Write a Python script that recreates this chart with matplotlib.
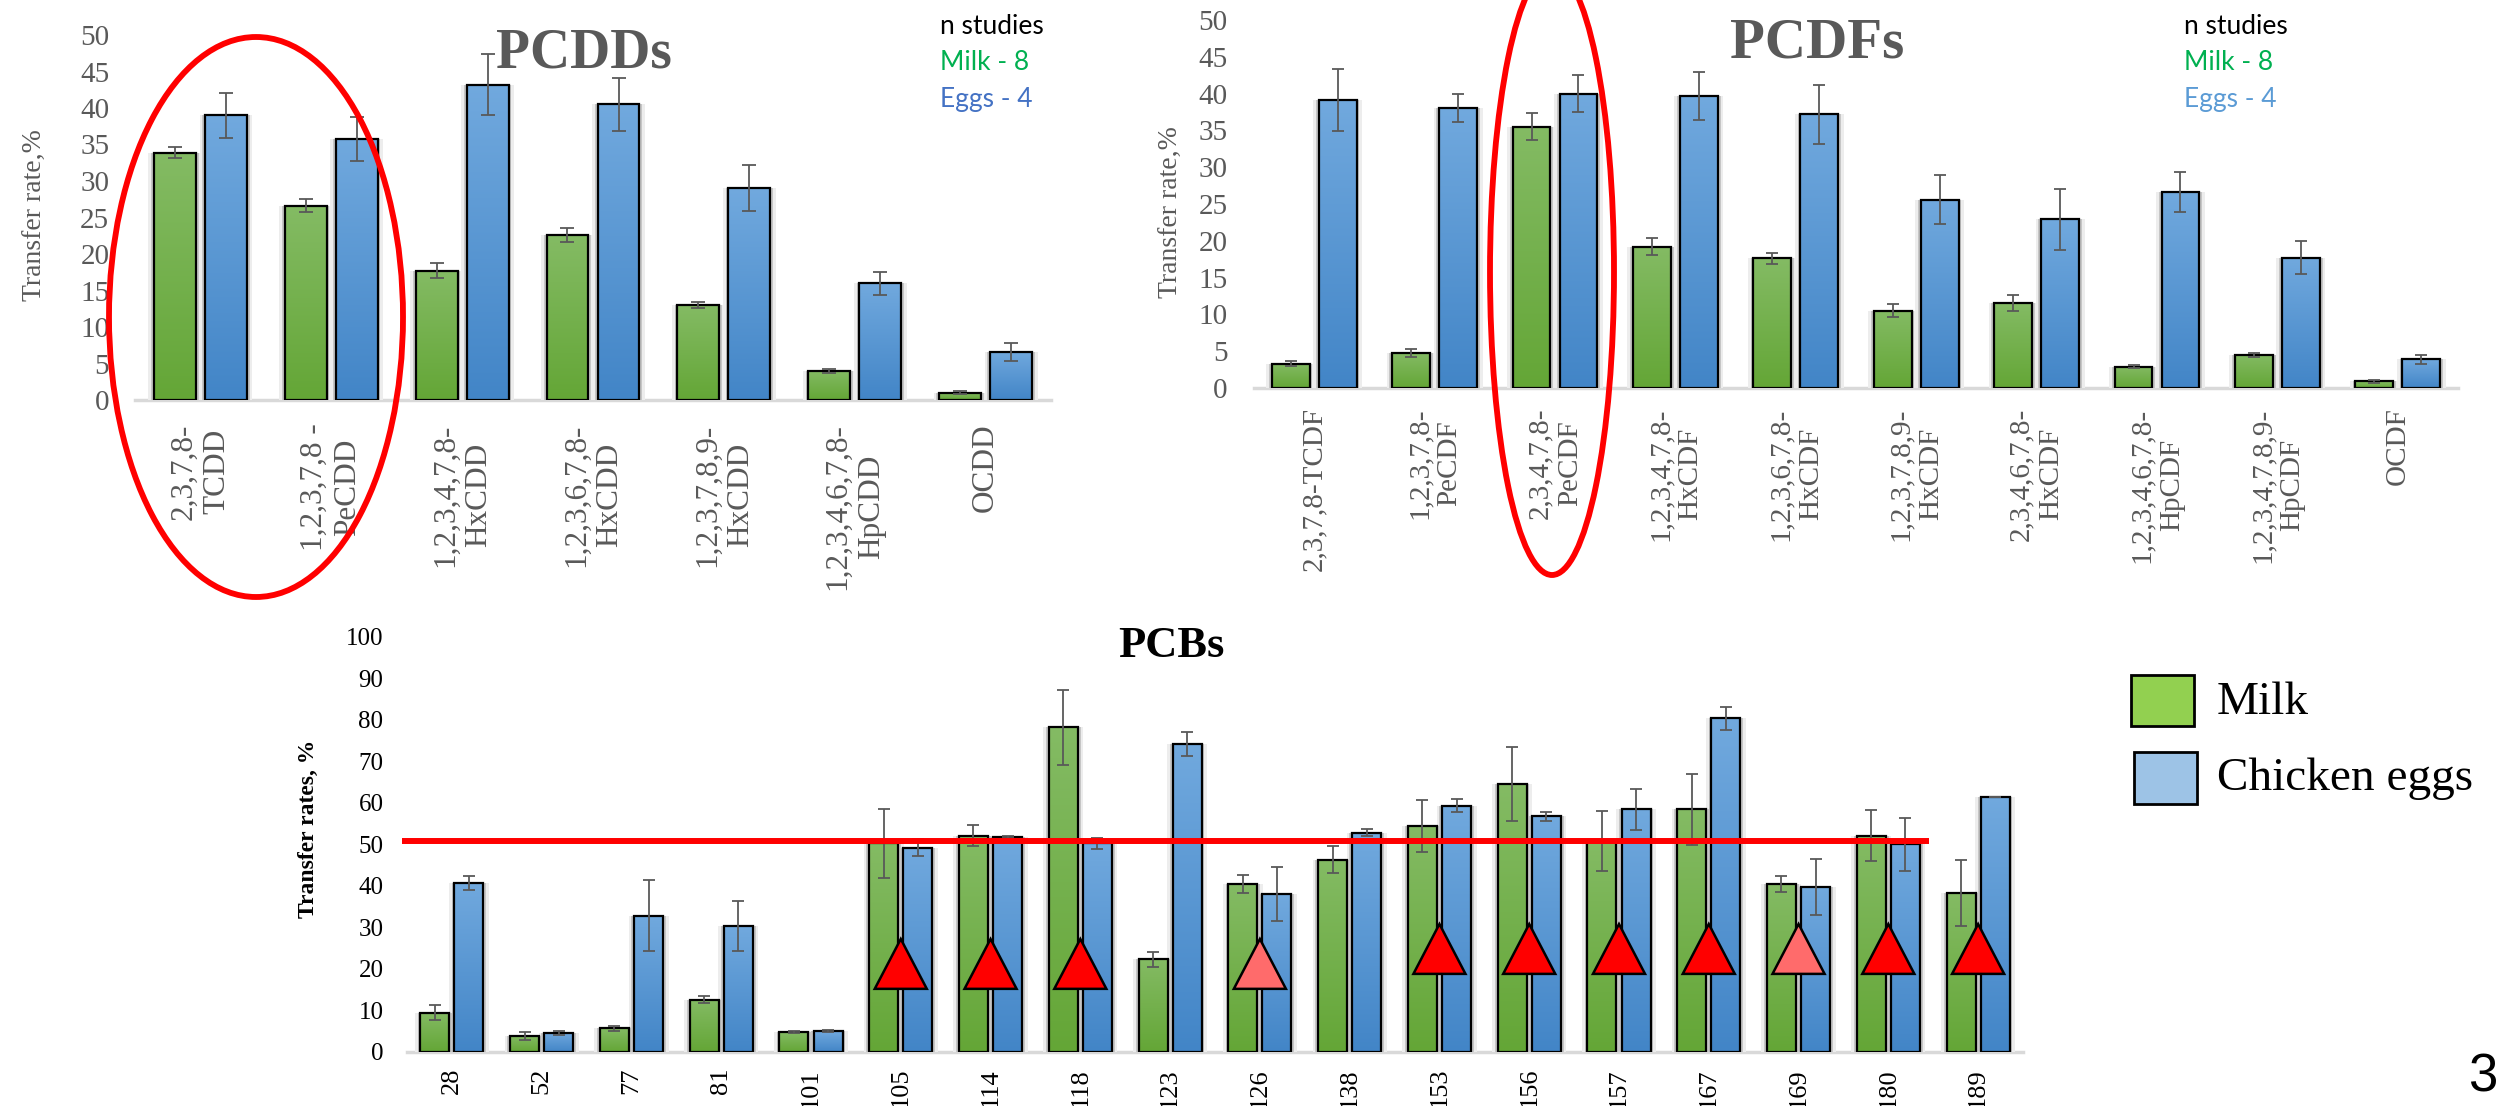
import numpy as np
import matplotlib
matplotlib.use("Agg")
import matplotlib.pyplot as plt
from matplotlib.colors import LinearSegmentedColormap
from matplotlib.patches import Ellipse, Rectangle, Polygon

# ---------------- data ----------------
pcdd_labels = ["2,3,7,8-\nTCDD", "1,2,3,7,8 -\nPeCDD", "1,2,3,4,7,8-\nHxCDD", "1,2,3,6,7,8-\nHxCDD",
               "1,2,3,7,8,9-\nHxCDD", "1,2,3,4,6,7,8-\nHpCDD", "OCDD"]
pcdd_milk = [33.9, 26.6, 17.7, 22.6, 13.0, 4.0, 1.0]
pcdd_milk_err = [0.8, 0.9, 1.0, 0.9, 0.45, 0.3, 0.2]
pcdd_eggs = [39.0, 35.8, 43.2, 40.5, 29.0, 16.0, 6.6]
pcdd_eggs_err = [3.1, 3.0, 4.2, 3.6, 3.15, 1.6, 1.25]

pcdf_labels = ["2,3,7,8-TCDF", "1,2,3,7,8-\nPeCDF", "2,3,4,7,8-\nPeCDF", "1,2,3,4,7,8-\nHxCDF",
               "1,2,3,6,7,8-\nHxCDF", "1,2,3,7,8,9-\nHxCDF", "2,3,4,6,7,8-\nHxCDF",
               "1,2,3,4,6,7,8-\nHpCDF", "1,2,3,4,7,8,9-\nHpCDF", "OCDF"]
pcdf_milk = [3.3, 4.75, 35.5, 19.2, 17.6, 10.5, 11.5, 2.9, 4.5, 0.9]
pcdf_milk_err = [0.35, 0.55, 1.85, 1.15, 0.7, 0.9, 1.1, 0.2, 0.25, 0.2]
pcdf_eggs = [39.1, 38.0, 40.0, 39.7, 37.2, 25.6, 22.9, 26.6, 17.7, 3.9]
pcdf_eggs_err = [4.2, 1.9, 2.55, 3.3, 4.0, 3.3, 4.15, 2.7, 2.25, 0.6]

pcb_labels = ["28", "52", "77", "81", "101", "105", "114", "118", "123", "126",
              "138", "153", "156", "157", "167", "169", "180", "189"]
pcb_milk = [9.5, 3.9, 5.7, 12.6, 4.8, 50.2, 52.1, 78.1, 22.3, 40.4,
            46.3, 54.4, 64.5, 50.7, 58.4, 40.5, 52.1, 38.2]
pcb_milk_err = [1.85, 0.9, 0.6, 0.9, 0.2, 8.4, 2.6, 9.1, 1.8, 2.2,
                3.2, 6.3, 8.8, 7.2, 8.5, 1.9, 6.1, 7.9]
pcb_eggs = [40.7, 4.6, 32.8, 30.3, 5.0, 49.2, 51.8, 50.2, 74.2, 38.0,
            52.8, 59.3, 56.7, 58.4, 80.3, 39.7, 50.0, 61.4]
pcb_eggs_err = [1.75, 0.4, 8.6, 6.0, 0.2, 2.1, 0.3, 1.4, 2.9, 6.5,
                0.9, 1.5, 1.0, 5.0, 2.8, 6.8, 6.4, 0.0]
pcb_threshold = 50.8

tri_congeners = ["105", "114", "118", "126", "153", "156", "157", "167", "169", "180", "189"]
tri_base = [15.2, 15.2, 15.2, 15.2, 18.8, 18.8, 18.8, 18.8, 18.8, 18.8, 18.8]
tri_colors = ["#FF0000", "#FF0000", "#FF0000", "#FF6B6B", "#FF0000", "#FF0000", "#FF0000",
              "#FF0000", "#FF6B6B", "#FF0000", "#FF0000"]

# ---------------- figure ----------------
W, H = 2501, 1106
fig = plt.figure(figsize=(W / 100, H / 100), dpi=100)
fig.patch.set_facecolor("white")
SERIF = "Liberation Serif"
GRAY = "#595959"

GREEN_CMAP = LinearSegmentedColormap.from_list("g", ["#64A636", "#84BB64"])
BLUE_CMAP = LinearSegmentedColormap.from_list("b", ["#4285C7", "#71A9DE"])


def px_axes(l, t, r, b):
    return fig.add_axes([l / W, 1 - b / H, (r - l) / W, (b - t) / H])


def draw_series(ax, x, vals, errs, width, cmap, ppu, capsize):
    sh = 5.0 / ppu
    ax.bar(x, vals, width=width + 2.2 * sh, color="#EDEDED", zorder=1, linewidth=0)
    ax.bar(x, vals, width=width + 1.1 * sh, color="#C6C6C6", zorder=1.1, linewidth=0)
    bars = ax.bar(x, vals, width=width, facecolor="none", edgecolor="black",
                  linewidth=1.6, zorder=3)
    grad = np.linspace(0, 1, 256).reshape(-1, 1)
    for b in bars:
        x0, y0 = b.get_xy()
        w, h = b.get_width(), b.get_height()
        ax.imshow(grad, extent=[x0, x0 + w, y0, y0 + h], origin="lower", aspect="auto",
                  cmap=cmap, zorder=2, interpolation="bilinear")
    ax.errorbar(x, vals, yerr=errs, fmt="none", ecolor=GRAY, elinewidth=1.3,
                capsize=capsize, capthick=1.3, zorder=4)


def setup(ax, labels, ymax, ystep, xlim, tick_size, tick_color, pad_y, xlab_size, pad_x):
    ax.set_xlim(*xlim)
    ax.set_ylim(0, ymax)
    ticks = np.arange(0, ymax + 0.01, ystep)
    ax.set_yticks(ticks)
    ax.set_yticklabels([f"{t:g}" for t in ticks], family=SERIF, fontsize=tick_size, color=tick_color)
    ax.set_xticks(range(len(labels)))
    ax.set_xticklabels(labels, rotation=90, ha="center", va="top", multialignment="center",
                       fontsize=xlab_size, color=tick_color, family=SERIF)
    for s in ["top", "right", "left"]:
        ax.spines[s].set_visible(False)
    ax.spines["bottom"].set_color("#D9D9D9")
    ax.spines["bottom"].set_linewidth(2.5)
    ax.spines["bottom"].set_zorder(0.5)
    ax.tick_params(axis="both", length=0)
    ax.tick_params(axis="y", pad=pad_y)
    ax.tick_params(axis="x", pad=pad_x)
    ax.patch.set_alpha(0)


# ---- PCDDs ----
ax1 = px_axes(135, 35, 1051, 400)
x1 = np.arange(len(pcdd_labels))
ppu1 = (1051 - 135) / 7.0
draw_series(ax1, x1 - 0.195, pcdd_milk, pcdd_milk_err, 0.32, GREEN_CMAP, ppu1, 5)
draw_series(ax1, x1 + 0.195, pcdd_eggs, pcdd_eggs_err, 0.32, BLUE_CMAP, ppu1, 5)
setup(ax1, pcdd_labels, 50, 5, (-0.5, 6.5), 21, GRAY, 18.5, 22.5, 17)

# ---- PCDFs ----
ax2 = px_axes(1254, 20, 2458, 388)
x2 = np.arange(len(pcdf_labels))
ppu2 = (2458 - 1254) / 10.0
draw_series(ax2, x2 - 0.195, pcdf_milk, pcdf_milk_err, 0.315, GREEN_CMAP, ppu2, 4.5)
draw_series(ax2, x2 + 0.195, pcdf_eggs, pcdf_eggs_err, 0.315, BLUE_CMAP, ppu2, 4.5)
setup(ax2, pcdf_labels, 50, 5, (-0.5, 9.5), 21, GRAY, 19, 21, 14)

# ---- PCBs ----
ax3 = px_axes(407, 636.5, 2023, 1052)
x3 = np.arange(len(pcb_labels))
ppu3 = (2023 - 407) / 18.0
draw_series(ax3, x3 - 0.19, pcb_milk, pcb_milk_err, 0.323, GREEN_CMAP, ppu3, 4.3)
draw_series(ax3, x3 + 0.19, pcb_eggs, pcb_eggs_err, 0.323, BLUE_CMAP, ppu3, 4.3)
setup(ax3, pcb_labels, 100, 10, (-0.5, 17.5), 18, "black", 17, 19, 11.5)
ax3.hlines(pcb_threshold, -0.56, 16.45, colors="#FF0000", linewidth=4.3, zorder=5, clip_on=False)
half = 0.29
for name, base, col in zip(tri_congeners, tri_base, tri_colors):
    i = pcb_labels.index(name)
    tri = Polygon([[i - half, base], [i + half, base], [i, base + 12.0]], closed=True,
                  facecolor=col, edgecolor="black", linewidth=1.8, zorder=6)
    ax3.add_patch(tri)

# ---------------- overlay (titles, labels, legends, ellipses) ----------------
ov = fig.add_axes([0, 0, 1, 1], zorder=10)
ov.set_xlim(0, W)
ov.set_ylim(H, 0)
ov.axis("off")
ov.patch.set_alpha(0)

ov.text(584, 54, "PCDDs", family=SERIF, fontweight="bold", fontsize=40, color=GRAY,
        ha="center", va="center")
ov.text(1817, 43, "PCDFs", family=SERIF, fontweight="bold", fontsize=41, color=GRAY,
        ha="center", va="center")
ov.text(1171, 646, "PCBs", family=SERIF, fontweight="bold", fontsize=32, color="black",
        ha="center", va="center")

ov.text(35, 215, "Transfer rate,%", family=SERIF, fontsize=20, color=GRAY, rotation=90,
        ha="center", va="center")
ov.text(1171, 212, "Transfer rate,%", family=SERIF, fontsize=20, color=GRAY, rotation=90,
        ha="center", va="center")
ov.text(308, 829, "Transfer rates, %", family=SERIF, fontsize=17, fontweight="bold",
        color="black", rotation=90, ha="center", va="center")

SANS = ["Lato", "DejaVu Sans"]
for x0, eggs_col in [(940, "#4472C4"), (2184, "#5B9BD5")]:
    ov.text(x0, 27, "n studies", family=SANS, fontsize=19, color="black", ha="left", va="center")
    ov.text(x0, 63, "Milk - 8", family=SANS, fontsize=19, color="#00B050", ha="left", va="center")
    ov.text(x0, 100, "Eggs - 4", family=SANS, fontsize=19, color=eggs_col, ha="left", va="center")

# legend
ov.add_patch(Rectangle((2131, 675), 63, 51, facecolor="#92D050", edgecolor="black", linewidth=2))
ov.add_patch(Rectangle((2134, 752), 63, 52, facecolor="#9DC3E6", edgecolor="black", linewidth=2))
ov.text(2217, 703, "Milk", family=SERIF, fontsize=34, color="black", ha="left", va="center")
ov.text(2217, 779, "Chicken eggs", family=SERIF, fontsize=34, color="black", ha="left", va="center")

# red ellipses
ov.add_patch(Ellipse((256, 317), 294, 560, fill=False, edgecolor="#FF0000", linewidth=4.2))
ov.add_patch(Ellipse((1552, 272), 124, 606, fill=False, edgecolor="#FF0000", linewidth=4.2))

# slide number
ov.text(2468, 1103, "3", family=["Liberation Sans"], fontsize=38, color="black",
        ha="left", va="bottom")

fig.savefig("out.png", dpi=100, facecolor="white")
